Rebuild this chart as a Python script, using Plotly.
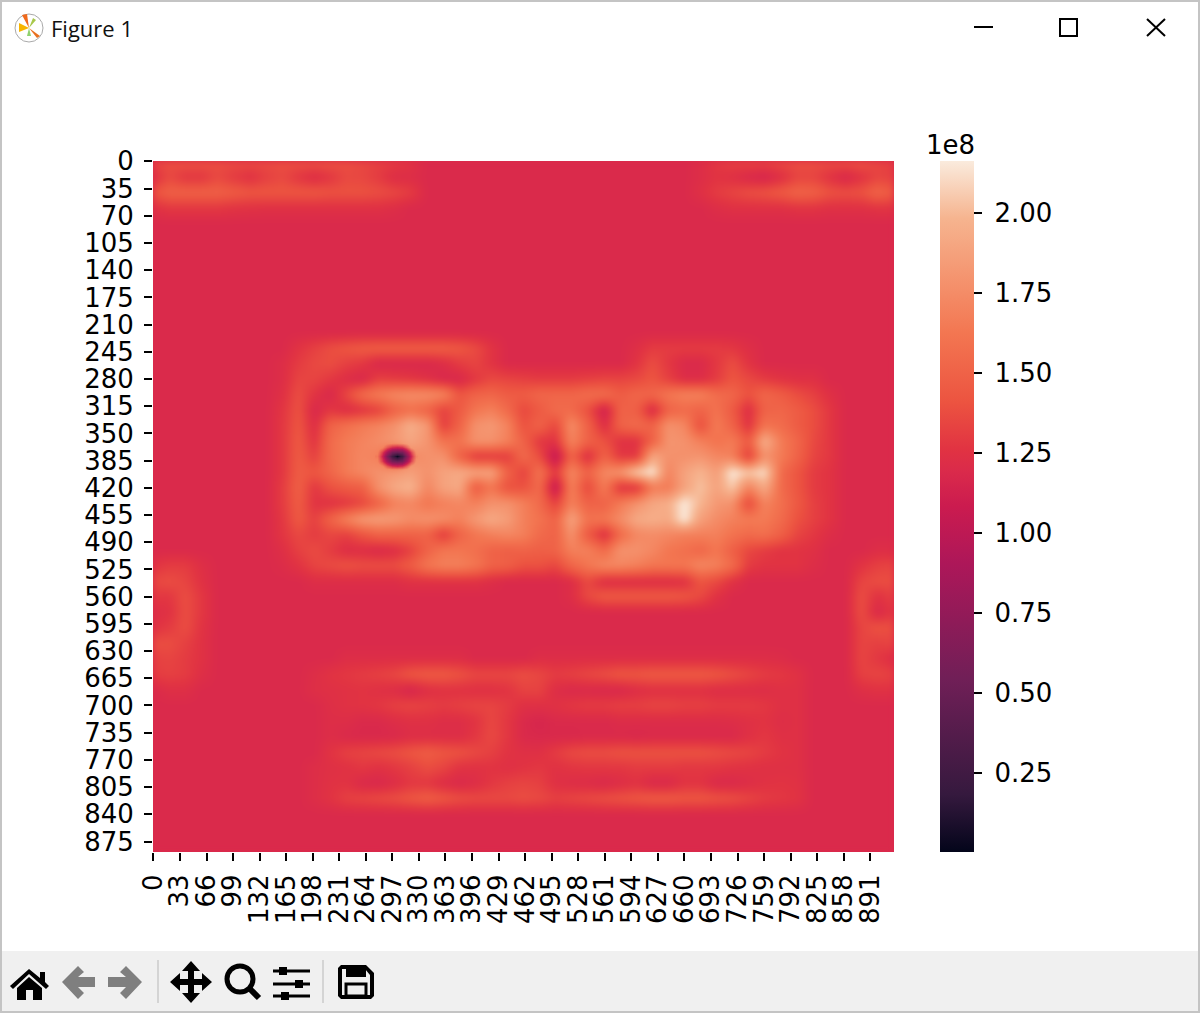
import numpy as np
import plotly.graph_objects as go

# values are in units of 1e6 (the colourbar offset is 1e8)
background = 119
vmin, vmax = 0.3, 216.25

x_grid = list(range(0, 921, 20))
y_grid = list(range(0, 881, 20))

x_tick_labels = list(range(0, 892, 33))
y_tick_labels = list(range(0, 876, 35))
cbar_ticks = [25, 50, 75, 100, 125, 150, 175, 200]

top_left_x0, top_left_y0 = 0, 0
top_left = [
    [134,138,140,140,138,137,137,137,138,139,140,140,138,135,132,130,126,120],
    [124,136,128,128,136,130,125,132,136,128,122,128,136,135,130,122,122,120],
    [140,148,148,148,148,145,142,142,142,142,142,140,140,140,138,135,130,120],
    [124,128,128,128,128,126,125,124,124,124,124,124,124,124,124,122,120,120],
]
top_right_x0, top_right_y0 = 680, 0
top_right = [
    [122,128,132,134,134,136,138,138,137,139,140,134,130],
    [122,126,124,120,116,124,134,134,126,118,126,134,132],
    [124,130,134,138,140,144,150,148,140,138,140,150,144],
    [120,122,124,124,124,124,126,126,124,124,124,126,126],
]
left_side_x0, left_side_y0 = 0, 520
left_side = [
    [126,130,130,123],
    [135,138,134,125],
    [128,128,138,128],
    [122,125,138,128],
    [125,130,138,126],
    [138,138,132,125],
    [132,134,130,125],
    [130,132,130,123],
    [120,123,123,120],
]
right_side_x0, right_side_y0 = 860, 500
right_side = [
    [120,120,122,122],
    [120,126,132,134],
    [120,134,138,138],
    [120,138,125,132],
    [120,138,120,128],
    [120,134,140,138],
    [120,134,132,134],
    [120,134,128,122],
    [120,132,134,132],
    [120,123,125,125],
]
main_x0, main_y0 = 160, 240
main_blob = [
    [120,126,132,138,142,145, 146,146,146,146,146,143, 137,126,120,120,120,120, 120,120,120,120,123,130, 130,130,130,130,128,123, 120,120,120,120,120,120],
    [122,130,136,138,132,128, 118,118,118,118,122,130, 134,126,120,120,120,120, 120,120,120,120,126,138, 128,120,120,128,138,126, 120,120,120,120,120,120],
    [122,134,134,128,122,118, 132,130,128,124,118,118, 128,136,134,132,130,130, 130,132,134,134,136,142, 132,122,122,130,142,136, 130,126,124,124,120,120],
    [124,138,126,118,135,155, 165,172,175,175,170,142, 150,152,146,146,152,152, 152,156,156,146,152,152, 162,168,168,156,152,140, 152,146,138,132,124,120],
    [127,140,118,128,122,126, 132,150,158,150,132,145, 162,168,155,135,145,155, 155,140,112,150,148,120, 150,155,150,160,145,122, 150,152,146,138,128,120],
    [128,142,122,150,158,165, 170,178,195,182,130,150, 178,182,170,140,150,135, 175,150,122,150,155,150, 178,172,138,165,150,125, 160,156,146,138,128,120],
    [128,144,126,155,165,170, 175,182,190,180,160,160, 178,178,168,150,128,125, 170,150,140,125,125,150, 180,178,168,160,165,145, 195,165,152,136,128,120],
    [128,145,132,155,165,172, 168,130,172,178,178,150, 128,128,130,155,138,104, 150,122,150,128,128,190, 178,178,180,172,168,130, 178,165,150,134,128,120],
    [128,146,142,152,165,172, 178,182,186,178,188,192, 188,188,150,132,160,128, 172,150,172,180,206,216, 170,188,198,185,216,205, 212,155,142,130,126,120],
    [130,148,128,140,145,148, 178,192,198,172,188,192, 145,162,140,140,155,105, 168,135,165,125,125,165, 165,188,203,188,205,170, 192,155,142,130,126,120],
    [130,146,126,125,128,135, 150,168,172,162,168,172, 168,178,178,168,155,132, 168,150,150,165,178,190, 195,216,198,182,178,135, 170,158,144,132,126,120],
    [128,144,132,150,168,182, 185,182,175,178,175,168, 182,192,185,168,160,150, 188,160,162,175,192,195, 192,216,186,175,168,165, 165,155,140,132,126,120],
    [127,136,130,135,132,142, 150,150,150,150,128,150, 162,168,172,168,155,150, 178,145,122,155,172,175, 172,168,168,168,160,155, 158,148,134,128,122,120],
    [123,132,137,130,122,122, 120,122,132,150,162,162, 158,150,148,150,148,150, 168,168,155,178,178,172, 162,158,152,162,148,135, 130,126,126,124,120,120],
    [121,126,134,137,140,138, 138,138,146,162,168,168, 162,150,148,140,140,135, 152,162,172,172,168,162, 162,162,172,168,155,130, 126,126,126,122,120,120],
    [120,120,122,122,122,122, 122,122,125,125,125,125, 125,122,120,120,120,120, 122,136,122,122,122,122, 122,124,142,136,125,120, 120,120,120,120,120,120],
    [120,120,120,120,120,120, 120,120,120,120,120,120, 120,120,120,120,120,120, 122,136,144,144,144,144, 144,142,136,125,120,120, 120,120,120,120,120,120],
]
bottom_x0, bottom_y0 = 200, 640
bottom_band = [
    [120,120,122,122,122,122, 122,122,122,122,120,120, 120,120,122,122,122,122, 122,122,122,122,122,122, 122,122,122,122,122,121, 120],
    [122,126,128,130,132,135, 142,144,144,140,135,135, 135,138,135,130,132,135, 138,142,142,144,144,144, 144,142,138,134,130,128, 125],
    [123,124,125,126,124,122, 116,123,125,125,124,124, 126,133,133,122,120,120, 118,118,122,124,124,124, 124,122,122,122,122,124, 124],
    [120,123,125,126,128,132, 134,132,130,132,134,134, 130,124,124,125,128,130, 130,132,132,134,134,132, 132,130,130,130,128,124, 124],
    [120,122,122,120,120,122, 124,124,122,122,126,135, 128,120,116,120,120,120, 120,121,121,121,121,121, 121,121,122,124,126,122, 124],
    [120,122,120,118,118,120, 122,122,122,122,128,136, 128,120,118,118,118,120, 120,120,118,120,120,120, 120,120,120,124,128,124, 124],
    [120,126,132,134,136,138, 142,146,142,140,136,132, 126,124,124,130,136,138, 138,140,140,140,140,140, 140,138,136,134,130,126, 124],
    [122,124,125,128,125,128, 132,138,134,126,125,126, 124,126,128,125,127,128, 128,128,130,130,130,128, 128,128,126,125,124,124, 124],
    [122,125,126,120,118,122, 128,128,122,120,122,128, 132,134,132,124,122,121, 120,122,125,120,120,126, 126,120,120,122,125,126, 125],
    [122,126,132,134,136,138, 142,146,142,138,136,136, 136,138,136,132,134,136, 138,140,142,144,144,142, 142,140,138,134,130,128, 126],
]

# the deep minimum, read on its own finer grid
spot_x = [279, 285, 291, 297, 303, 309, 315, 321, 327]
spot_y = [362, 368, 374, 380, 386, 392, 398]
spot = [
    [150, 150, 150, 150, 150, 150, 150, 150, 150],
    [150, 145, 125, 112, 108, 112, 125, 145, 150],
    [145, 118,  85,  58,  52,  58,  85, 118, 145],
    [140, 108,  62,  26,   3,  26,  62, 108, 140],
    [145, 118,  85,  58,  52,  58,  85, 118, 145],
    [150, 145, 125, 112, 108, 112, 125, 145, 150],
    [150, 150, 150, 150, 150, 150, 150, 150, 150],
]

# rocket colour map
rocket = [[0, "#03051A"], [0.083, "#35193E"], [0.25, "#701F57"], [0.417, "#AD1759"], [0.5, "#CB1B4F"],
          [0.55, "#DA2A4B"], [0.583, "#E13342"], [0.65, "#EC5340"], [0.75, "#F37651"], [0.917, "#F6B48F"], [1, "#FAEBDD"]]
rocket_spot = [[0, "rgba(3,5,26,1)"], [0.083, "rgba(53,25,62,1)"], [0.25, "rgba(112,31,87,1)"],
               [0.417, "rgba(173,23,89,1)"], [0.5, "rgba(203,27,79,0.9)"], [0.66, "rgba(225,51,66,0)"],
               [1, "rgba(225,51,66,0)"]]

Z = np.full((len(y_grid), len(x_grid)), float(background))
for block, x0, y0 in [(top_left, top_left_x0, top_left_y0), (top_right, top_right_x0, top_right_y0),
                      (left_side, left_side_x0, left_side_y0), (right_side, right_side_x0, right_side_y0),
                      (main_blob, main_x0, main_y0), (bottom_band, bottom_x0, bottom_y0)]:
    arr = np.array(block, dtype=float)
    i, j = y0 // 20, x0 // 20
    arr = np.where(arr == 120, background, arr)
    Z[i:i + arr.shape[0], j:j + arr.shape[1]] = arr

W, H = 1200, 1013
def fx(p): return p / W
def fy(p): return 1 - p / H
def path(*cmds):
    out = []
    for c in cmds:
        if isinstance(c, str):
            out.append(c)
        else:
            out.append(f"{fx(c[0]):.5f},{fy(c[1]):.5f}")
    return " ".join(out)
def poly(points):
    s = ["M"]
    for k, p in enumerate(points):
        if k: s.append("L")
        s.append(p)
    s.append("Z")
    return path(*s)

fig = go.Figure(go.Heatmap(
    z=Z, x=x_grid, y=y_grid, zsmooth="best", colorscale=rocket, zmin=vmin, zmax=vmax,
    hoverinfo="skip",
    colorbar=dict(x=940 / W, xanchor="left", y=fy(161), yanchor="top", len=691 / H, lenmode="fraction",
                  thickness=34, thicknessmode="pixels", xpad=0, ypad=0, outlinewidth=0,
                  tickvals=cbar_ticks, ticktext=["\u2009\u200a" + f"{v / 100:.2f}" for v in cbar_ticks],
                  ticks="outside", ticklen=8, tickwidth=2, tickcolor="black",
                  tickfont=dict(family="DejaVu Sans", size=26, color="black")),
))
fig.add_trace(go.Heatmap(z=spot, x=spot_x, y=spot_y, zsmooth="best", colorscale=rocket_spot, zmin=vmin, zmax=vmax,
                         showscale=False, hoverinfo="skip"))

shapes = []
def solid(points, color="black"):
    shapes.append(dict(type="path", path=poly(points), xref="paper", yref="paper",
                       fillcolor=color, line=dict(width=0), layer="above"))
def line(p, q, width=2, color="black"):
    shapes.append(dict(type="line", x0=fx(p[0]), y0=fy(p[1]), x1=fx(q[0]), y1=fy(q[1]), xref="paper", yref="paper",
                       line=dict(width=width, color=color), layer="above"))
def rect(a, b, fill=None, lw=0, color="black", radius=0):
    shapes.append(dict(type="rect", x0=fx(a[0]), y0=fy(a[1]), x1=fx(b[0]), y1=fy(b[1]), xref="paper", yref="paper",
                       fillcolor=fill if fill else "rgba(0,0,0,0)", line=dict(width=lw, color=color), layer="above"))
def circle(c, r, fill=None, lw=0, color="black"):
    shapes.append(dict(type="circle", x0=fx(c[0] - r), y0=fy(c[1] - r), x1=fx(c[0] + r), y1=fy(c[1] + r),
                       xref="paper", yref="paper", fillcolor=fill if fill else "rgba(0,0,0,0)",
                       line=dict(width=lw, color=color), layer="above"))

# toolbar strip
rect((2, 951), (1198, 1011), fill="#F0F0F0")
line((158, 960), (158, 1003), 1, "#B8B8B8")
line((323, 960), (323, 1003), 1, "#B8B8B8")
# home
solid([(10, 986), (29, 969), (40, 978), (40, 972), (45, 972), (45, 982), (49, 986), (46, 989), (29, 974), (13, 989)])
solid([(17, 988), (29, 977), (42, 988), (42, 1000), (33, 1000), (33, 990), (26, 990), (26, 1000), (17, 1000)])
# back / forward
grey = "#7F7F7F"
solid([(62, 982), (78, 966), (84, 972), (78, 977), (95, 977), (95, 987), (78, 987), (84, 993), (78, 999)], grey)
solid([(142, 982), (126, 966), (120, 972), (126, 977), (108, 977), (108, 987), (126, 987), (120, 993), (126, 999)], grey)
# pan
solid([(191, 961), (200, 971), (194, 971), (194, 979), (202, 979), (202, 973), (212, 982), (202, 991), (202, 985),
       (194, 985), (194, 993), (200, 993), (191, 1003), (182, 993), (188, 993), (188, 985), (180, 985), (180, 991),
       (170, 982), (180, 973), (180, 979), (188, 979), (188, 971), (182, 971)])
# zoom
circle((240, 979), 13, lw=5)
line((250, 989), (259, 998), 6)
# sliders
for yy, kx in [(971, 283), (984, 299), (996, 285)]:
    line((273, yy), (310, yy), 3)
    rect((kx - 4, yy - 4), (kx + 4, yy + 4), fill="black")
# save
solid([(338, 968), (341, 965), (366, 965), (374, 973), (374, 996), (371, 999), (341, 999), (338, 996)])
solid([(342, 969), (365, 969), (370, 975), (370, 995), (342, 995)], "#F0F0F0")
solid([(346, 966), (366, 966), (366, 977), (346, 977)])
rect((346, 984), (366, 996), lw=3)
# window buttons
line((974, 27), (993, 27), 2)
rect((1060, 19), (1077, 36), lw=2)
line((1147, 19), (1165, 36), 2)
line((1165, 19), (1147, 36), 2)
# window icon
circle((29, 28), 14, fill="white", lw=1, color="#AAAAAA")
solid([(29, 28), (22, 15), (27, 14)], "#F06A1C")
solid([(29, 28), (40, 36), (37, 38)], "#E8701F")
solid([(29, 28), (19, 23), (19, 32)], "#F7B500")
solid([(29, 28), (33, 18), (36, 20)], "#A8C84A")
solid([(29, 28), (27, 36), (31, 36)], "#8FD16F")
# window frame
rect((1, 1), (1199, 1012), lw=2, color="#C4C4C4")

fig.update_layout(
    width=W, height=H, margin=dict(l=0, r=0, t=0, b=0, autoexpand=False), paper_bgcolor="white", plot_bgcolor="#DA2A4B",
    xaxis=dict(domain=[153 / W, 894 / W], range=[0, 921], showgrid=False, zeroline=False, showline=False,
               tickmode="array", tickvals=[v + 0.5 for v in x_tick_labels], ticktext=[str(v) for v in x_tick_labels],
               tickangle=-90, ticks="outside", ticklen=8, tickwidth=2, tickcolor="black", ticklabelstandoff=3,
               tickfont=dict(family="DejaVu Sans", size=26, color="black")),
    yaxis=dict(domain=[fy(852), fy(161)], range=[889, 0], showgrid=False, zeroline=False, showline=False,
               tickmode="array", tickvals=[v + 0.5 for v in y_tick_labels], ticktext=[str(v) for v in y_tick_labels],
               ticks="outside", ticklen=8, tickwidth=2, tickcolor="black", ticklabelstandoff=5,
               tickfont=dict(family="DejaVu Sans", size=26, color="black")),
    shapes=shapes,
    annotations=[
        dict(text="Figure 1", x=fx(49), y=fy(28), xref="paper", yref="paper", xanchor="left", yanchor="middle",
             showarrow=False, font=dict(family="Open Sans", size=22, color="#111111")),
        dict(text="1e8", x=fx(924), y=fy(145), xref="paper", yref="paper", xanchor="left", yanchor="middle",
             showarrow=False, font=dict(family="DejaVu Sans", size=26, color="black")),
    ],
)
css = ".hm:first-child image{filter:blur(3px);}"
fig.write_html("out.html", config={"displayModeBar": False},
               post_script="document.body.style.margin='0';document.documentElement.style.overflow='hidden';"
                           "document.head.insertAdjacentHTML('beforeend','<style>" + css + "</style>');")
